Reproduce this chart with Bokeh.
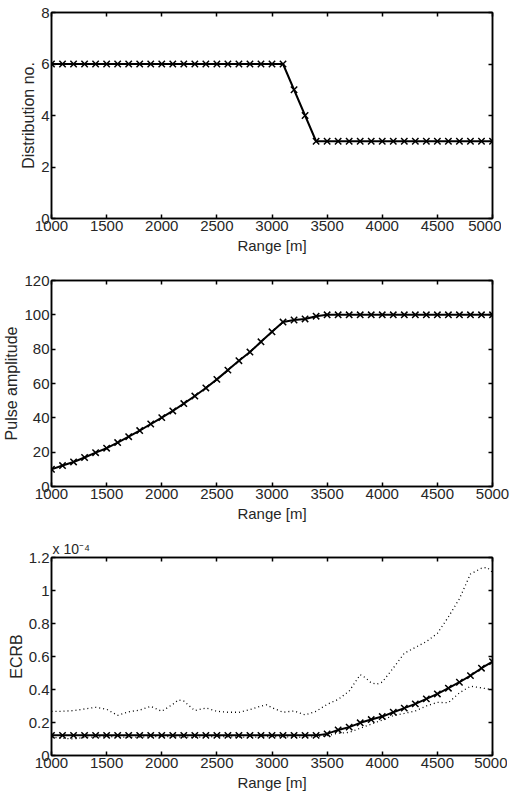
from bokeh.plotting import figure
from bokeh.layouts import column
from bokeh.models import (LinearAxis, FixedTicker, NumeralTickFormatter, Range1d,
                          CustomJSTickFormatter)
from bokeh.embed import file_html
from bokeh.resources import INLINE

# ---------------- data ----------------
range_m = [1000, 1100, 1200, 1300, 1400, 1500, 1600, 1700, 1800, 1900,
           2000, 2100, 2200, 2300, 2400, 2500, 2600, 2700, 2800, 2900,
           3000, 3100, 3200, 3300, 3400, 3500, 3600, 3700, 3800, 3900,
           4000, 4100, 4200, 4300, 4400, 4500, 4600, 4700, 4800, 4900, 5000]

distribution_no = [6, 6, 6, 6, 6, 6, 6, 6, 6, 6,
                   6, 6, 6, 6, 6, 6, 6, 6, 6, 6,
                   6, 6, 5, 4, 3, 3, 3, 3, 3, 3,
                   3, 3, 3, 3, 3, 3, 3, 3, 3, 3, 3]

pulse_amplitude = [10, 12.2, 14.3, 16.9, 19.7, 22.3, 25.6, 29, 32.6, 36.4,
                   40.1, 44, 48.3, 52.7, 57.4, 62.4, 67.8, 73.3, 78.3, 84.3,
                   90.1, 95.8, 97, 97.6, 99.2, 100, 100, 100, 100, 100,
                   100, 100, 100, 100, 100, 100, 100, 100, 100, 100, 100]

# ECRB in units of 1e-4
ecrb = [0.122, 0.122, 0.122, 0.122, 0.122, 0.122, 0.122, 0.122, 0.122, 0.122,
        0.122, 0.122, 0.122, 0.122, 0.122, 0.122, 0.122, 0.122, 0.122, 0.122,
        0.122, 0.122, 0.122, 0.122, 0.122, 0.131, 0.155, 0.172, 0.198, 0.218,
        0.236, 0.262, 0.287, 0.313, 0.343, 0.373, 0.408, 0.444, 0.484, 0.529, 0.569]

upper_range = [1000, 1100, 1200, 1300, 1400, 1500, 1600, 1700, 1800, 1900,
               2000, 2100, 2150, 2200, 2300, 2400, 2500, 2600, 2700, 2800,
               2900, 2950, 3000, 3100, 3200, 3300, 3400, 3500, 3600, 3700,
               3750, 3800, 3850, 3900, 3950, 4000, 4100, 4200, 4300, 4400,
               4500, 4600, 4700, 4800, 4900, 4950, 5000]
upper_ecrb = [0.268, 0.268, 0.272, 0.282, 0.292, 0.28, 0.243, 0.265, 0.275, 0.298,
              0.268, 0.31, 0.337, 0.33, 0.272, 0.288, 0.268, 0.262, 0.262, 0.278,
              0.3, 0.307, 0.29, 0.262, 0.27, 0.246, 0.268, 0.31, 0.34, 0.39,
              0.44, 0.49, 0.47, 0.44, 0.432, 0.445, 0.53, 0.62, 0.655, 0.69,
              0.74, 0.84, 0.95, 1.10, 1.135, 1.14, 1.11]

lower_range = [1000, 1100, 1200, 1300, 1500, 1700, 2000, 2300, 2500, 2800,
               3000, 3300, 3500, 3600, 3700, 3800, 3900, 4000, 4100, 4200,
               4300, 4400, 4500, 4600, 4700, 4800, 4900, 5000]
lower_ecrb = [0.11, 0.105, 0.10, 0.11, 0.115, 0.11, 0.115, 0.11, 0.115, 0.11,
              0.115, 0.11, 0.12, 0.135, 0.14, 0.165, 0.19, 0.215, 0.242, 0.255,
              0.27, 0.3, 0.322, 0.32, 0.38, 0.42, 0.41, 0.398]

x_ticks = [1000, 1500, 2000, 2500, 3000, 3500, 4000, 4500, 5000]
y1_ticks = [0, 2, 4, 6, 8]
y2_ticks = [0, 20, 40, 60, 80, 100, 120]
y3_ticks = [0, 0.2, 0.4, 0.6, 0.8, 1, 1.2]
ecrb_scale_text = "x 10\u207b\u2074"

FONT = "Liberation Sans"
TXT = "#262626"


def make_fig(yr, yticks, ylabel, top, bottom, fh):
    p = figure(output_backend="svg", toolbar_location=None,
               frame_width=441, frame_height=fh,
               x_range=Range1d(1000, 5000), y_range=Range1d(*yr),
               min_border_left=41, min_border_right=19,
               min_border_top=top, min_border_bottom=bottom,
               x_axis_label="Range [m]", y_axis_label=ylabel)
    p.xgrid.visible = False
    p.ygrid.visible = False
    p.outline_line_color = "black"
    p.outline_line_width = 1.5
    p.background_fill_color = "white"
    p.border_fill_color = "white"
    p.xaxis.ticker = FixedTicker(ticks=x_ticks)
    p.yaxis.ticker = FixedTicker(ticks=yticks)
    for ax in (p.xaxis[0], p.yaxis[0]):
        ax.major_tick_in = 4
        ax.major_tick_out = 0
        ax.minor_tick_line_color = None
        ax.axis_line_width = 1.5
        ax.major_tick_line_width = 1.5
        ax.major_label_text_font = FONT
        ax.major_label_text_font_size = "15px"
        ax.major_label_text_color = TXT
        ax.axis_label_text_font = FONT
        ax.axis_label_text_font_style = "normal"
        ax.axis_label_text_color = TXT
        ax.major_label_standoff = 2
        ax.axis_label_standoff = 3
    p.xaxis[0].axis_label_text_font_size = "15px"
    p.yaxis[0].axis_label_text_font_size = "16px"
    p.yaxis[0].major_label_standoff = 2
    p.yaxis[0].axis_label_standoff = 1
    blank = CustomJSTickFormatter(code="return ''")
    for side, tk in (("above", x_ticks), ("right", yticks)):
        ax = LinearAxis(ticker=FixedTicker(ticks=tk), formatter=blank,
                        major_label_standoff=0,
                        major_tick_in=4, major_tick_out=0,
                        minor_tick_line_color=None,
                        axis_line_width=1.5, major_tick_line_width=1.5)
        p.add_layout(ax, side)
    return p


p1 = make_fig((0, 8), y1_ticks, "Distribution no.", 12, 51, 206)
p1.line(range_m, distribution_no, line_color="black", line_width=2)
p1.scatter(range_m, distribution_no, marker="x", size=9, line_color="black", line_width=1.5)

p2 = make_fig((0, 120), y2_ticks, "Pulse amplitude", 11, 47, 206)
p2.line(range_m, pulse_amplitude, line_color="black", line_width=2)
p2.scatter(range_m, pulse_amplitude, marker="x", size=9, line_color="black", line_width=1.5)

p3 = make_fig((0, 1.2), y3_ticks, "ECRB", 24, 40, 198)
p3.yaxis[0].formatter = NumeralTickFormatter(format="0.[0]")
p3.title.text = ecrb_scale_text
p3.title.align = "left"
p3.title.offset = 1
p3.title.standoff = 2
p3.title.text_font = FONT
p3.title.text_font_size = "14px"
p3.title.text_font_style = "normal"
p3.title.text_color = TXT
p3.line(upper_range, upper_ecrb, line_color="black", line_width=1.3, line_dash="1 3")
p3.line(lower_range, lower_ecrb, line_color="black", line_width=1.3, line_dash="1 3")
p3.line(range_m, ecrb, line_color="black", line_width=2)
p3.scatter(range_m, ecrb, marker="x", size=9, line_color="black", line_width=1.5)

layout = column(p1, p2, p3, spacing=0)
open("out.html", "w").write(file_html(layout, INLINE))
